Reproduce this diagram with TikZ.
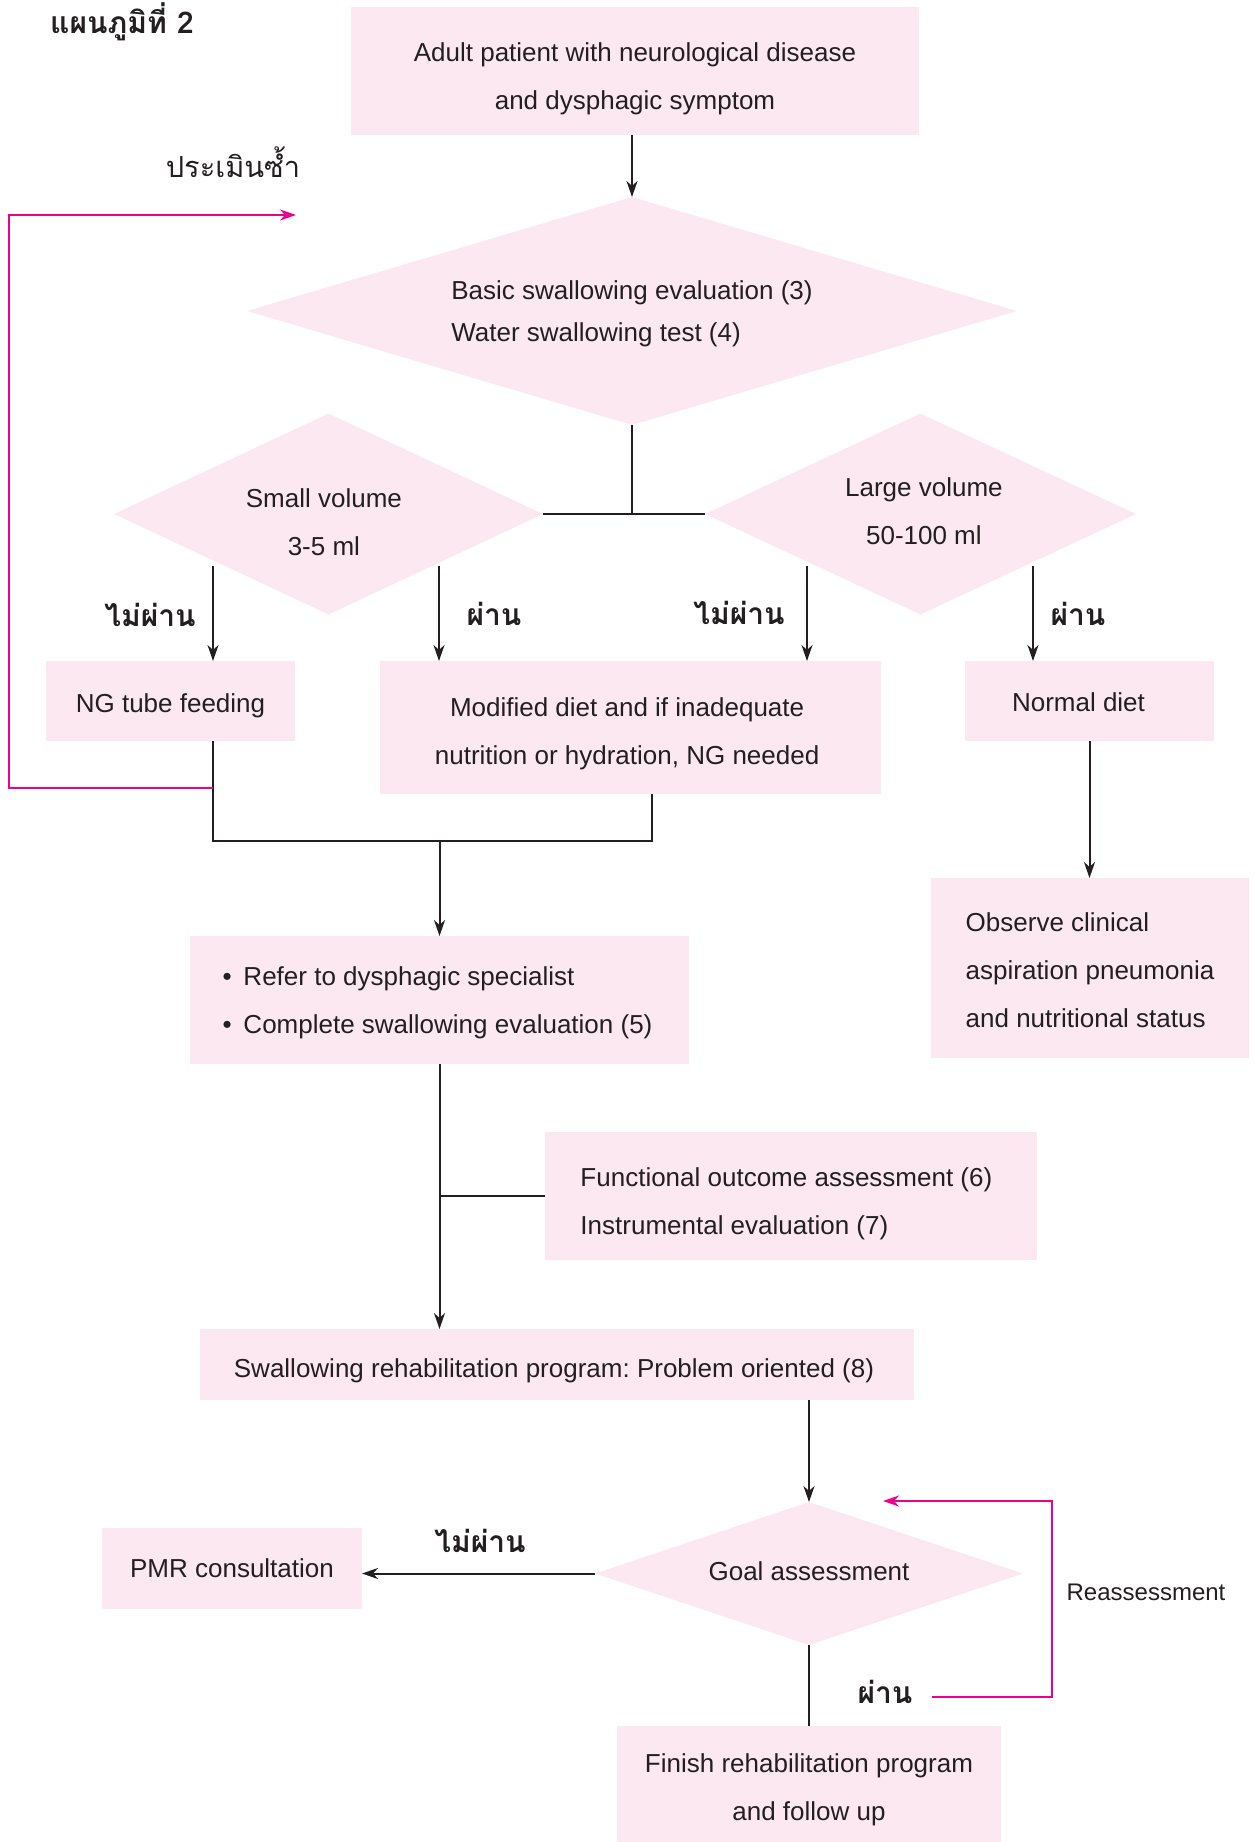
\documentclass[tikz,border=0pt]{standalone}
\usepackage{fontspec}
\setmainfont{Liberation Sans}
\newfontfamily\thaifont[Script=Thai]{Loma}
\usetikzlibrary{shapes.geometric,arrows.meta}
\definecolor{boxpink}{HTML}{FCE8F1}
\definecolor{loopmag}{HTML}{EC008C}
\definecolor{ink}{HTML}{231F20}
\frenchspacing
\begin{document}
\begin{tikzpicture}[x=0.5pt,y=-0.5pt,
  box/.style={fill=boxpink, inner sep=0pt, outer sep=0pt},
  dia/.style={diamond, fill=boxpink, inner sep=0pt, outer sep=0pt},
  txt/.style={inner sep=0pt, outer sep=0pt, align=center, text=ink, font=\fontsize{13}{24}\selectfont},
  conn/.style={draw=ink, line width=1pt},
  arr/.style={conn, -{Stealth[length=8pt,width=5.5pt,inset=2.5pt]}},
  magline/.style={draw=loopmag, line width=1pt, -{Stealth[length=8pt,width=5.5pt,inset=2.5pt]}},
  thlabel/.style={font=\thaifont\bfseries\fontsize{15}{18}\selectfont, text=ink, inner sep=0pt},
  thplain/.style={font=\thaifont\fontsize{14.5}{18}\selectfont, text=ink, inner sep=0pt},
]
\useasboundingbox (0,0) rectangle (1253,1842);

% shapes
\node[box, minimum width=284pt, minimum height=64pt] (top) at (635,71) {};
\node[dia, minimum width=385pt, minimum height=114pt] (eval) at (632,311) {};
\node[dia, minimum width=214.5pt, minimum height=100.5pt] (smallD) at (328.5,514) {};
\node[dia, minimum width=215.5pt, minimum height=100.5pt] (largeD) at (920.5,514) {};
\node[box, minimum width=124.5pt, minimum height=40pt] (ng) at (170.5,701) {};
\node[box, minimum width=250.5pt, minimum height=66.5pt] (mod) at (630.5,727.5) {};
\node[box, minimum width=124.5pt, minimum height=40pt] (normal) at (1089.5,701) {};
\node[box, minimum width=159pt, minimum height=90pt] (observe) at (1090,968) {};
\node[box, minimum width=249.5pt, minimum height=64pt] (refer) at (439.5,1000) {};
\node[box, minimum width=246pt, minimum height=64pt] (func) at (791,1196) {};
\node[box, minimum width=357pt, minimum height=35.5pt] (rehab) at (557,1364.5) {};
\node[dia, minimum width=214pt, minimum height=71.5pt] (goal) at (809,1573.5) {};
\node[box, minimum width=130pt, minimum height=40.5pt] (pmr) at (232,1568.5) {};
\node[box, minimum width=192pt, minimum height=58pt] (finish) at (809,1784) {};

% texts
\node[txt] (topT) at ([yshift=-4pt]top.center) {Adult patient with neurological disease\\and dysphagic symptom};
\node[txt, align=left, font=\fontsize{13}{21}\selectfont] (evalT) at ([yshift=-1.5pt]eval.center) {Basic swallowing evaluation (3)\\Water swallowing test (4)};
\node[txt] (smallT) at ([xshift=-2.3pt,yshift=-4pt]smallD.center) {Small volume\\3-5 ml};
\node[txt] (largeT) at ([xshift=1.7pt,yshift=1.2pt]largeD.center) {Large volume\\50-100 ml};
\node[txt] (ngT) at ([yshift=-2.3pt]ng.center) {NG tube feeding};
\node[txt] (modT) at ([xshift=-1.7pt,yshift=-3pt]mod.center) {Modified diet and if inadequate\\nutrition or hydration, NG needed};
\node[txt] (normalT) at ([xshift=-5.5pt,yshift=-0.6pt]normal.center) {Normal diet};
\node[txt, align=left] (observeT) at ([yshift=-1.2pt]observe.center) {Observe clinical\\aspiration pneumonia\\and nutritional status};
\node[txt, align=left] (referT) at ([xshift=-1pt,yshift=-1.2pt]refer.center) {\makebox[10.5pt][l]{•}Refer to dysphagic specialist\\\makebox[10.5pt][l]{•}Complete swallowing evaluation (5)};
\node[txt, align=left] (funcT) at ([xshift=-2.3pt,yshift=-4pt]func.center) {Functional outcome assessment (6)\\Instrumental evaluation (7)};
\node[txt] (rehabT) at ([xshift=-1.5pt,yshift=-3pt]rehab.center) {Swallowing rehabilitation program: Problem oriented (8)};
\node[txt] (goalT) at ([yshift=1.2pt]goal.center) {Goal assessment};
\node[txt] (pmrT) at (pmr.center) {PMR consultation};
\node[txt] (finishT) at ([yshift=-3pt]finish.center) {Finish rehabilitation program\\and follow up};

% labels
\node[thlabel] (title) at (122,22) {แผนภูมิที่ 2};
\node[thplain] (reeval) at (233,162) {ประเมินซ้ำ};
\node[thlabel] (l1) at (150,615) {ไม่ผ่าน};
\node[thlabel] (l2) at (494,614) {ผ่าน};
\node[thlabel] (l3) at (739,613) {ไม่ผ่าน};
\node[thlabel] (l4) at (1078,614) {ผ่าน};
\node[thlabel] (l5) at (480,1541) {ไม่ผ่าน};
\node[thlabel] (l6) at (885,1692) {ผ่าน};
\node[text=ink, inner sep=0pt, font=\fontsize{12}{14}\selectfont] (reass) at (1146,1592) {Reassessment};

% coordinates
\coordinate (a1) at (213,566);
\coordinate (a2) at (439,566);
\coordinate (a3) at (807,566);
\coordinate (a4) at (1033,566);
\coordinate (jl) at (213,841);
\coordinate (jr) at (652,841);
\coordinate (m1) at (9,788);
\coordinate (m2) at (9,215);
\coordinate (m3) at (296,215);
\coordinate (r1) at (932,1697);
\coordinate (r2) at (1052,1697);
\coordinate (r3) at (1052,1501);
\coordinate (r4) at (883,1501);

% connectors
\draw[arr] (eval.north |- top.south) -- (eval.north);
\draw[conn] (eval.south) -- (eval.south |- smallD.east);
\draw[conn] (smallD.east) -- (largeD.west);
\draw[arr] (a1) -- (a1 |- ng.north);
\draw[arr] (a2) -- (a2 |- mod.north);
\draw[arr] (a3) -- (a3 |- mod.north);
\draw[arr] (a4) -- (a4 |- normal.north);
\draw[conn] (ng.south -| jl) -- (jl) -- (jr) -- (mod.south -| jr);
\draw[arr] (refer.north |- jl) -- (refer.north);
\draw[magline] (jl |- m1) -- (m1) -- (m2) -- (m3);
\draw[arr] (normal.south) -- (normal.south |- observe.north);
\draw[arr] (refer.south) -- (refer.south |- rehab.north);
\draw[conn] (func.west) -- (func.west -| refer.south);
\draw[arr] (goal.north |- rehab.south) -- (goal.north);
\draw[arr] (goal.west) -- (goal.west -| pmr.east);
\draw[conn] (goal.south) -- (finish.north);
\draw[magline] (r1) -- (r2) -- (r3) -- (r4);
\end{tikzpicture}
\end{document}
